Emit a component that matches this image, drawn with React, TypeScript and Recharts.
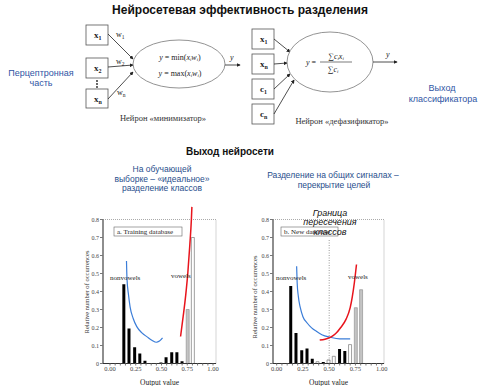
import { ComposedChart, Bar, Line, XAxis, YAxis, ReferenceLine, ReferenceArea } from 'recharts'

// histogram bins (output value), shared by both panels
const bins = [0.135, 0.185, 0.24, 0.29, 0.34, 0.39, 0.445, 0.495, 0.545, 0.6, 0.65, 0.7, 0.755, 0.805]

// a. Training database
const trainNonvowels = [0.44, 0.195, 0.09, 0.055, 0.015, 0, 0, 0.005, 0.035, 0.062, 0.062, 0.012, 0, 0]
const trainVowelsShaded = [0, 0, 0, 0, 0, 0, 0, 0, 0, 0, 0, 0, 0.3, 0]
const trainVowelsOpen = [0, 0, 0, 0, 0, 0, 0, 0, 0, 0, 0, 0, 0, 0.7]

// b. New database
const newNonvowels = [0.43, 0.17, 0.074, 0.083, 0.027, 0, 0.008, 0, 0, 0.08, 0.07, 0, 0, 0]
const newVowelsShaded = [0, 0, 0, 0, 0, 0, 0, 0, 0, 0, 0, 0, 0.31, 0.41]
const newVowelsOpen = [0, 0, 0, 0, 0, 0.01, 0, 0.02, 0.04, 0, 0, 0.105, 0, 0]

// hand-drawn membership curves [x, y]
const trainBlue: [number, number][] = [
  [0.16, 0.57], [0.165, 0.47], [0.18, 0.38], [0.195, 0.315], [0.225, 0.25], [0.26, 0.205],
  [0.31, 0.17], [0.36, 0.148], [0.41, 0.128], [0.45, 0.118], [0.48, 0.125], [0.51, 0.143],
]
const trainRed: [number, number][] = [
  [0.685, 0.15], [0.71, 0.26], [0.735, 0.38], [0.755, 0.5], [0.775, 0.66], [0.79, 0.8], [0.795, 0.87],
]
const newBlue: [number, number][] = [
  [0.19, 0.54], [0.195, 0.45], [0.206, 0.374], [0.225, 0.31], [0.25, 0.26], [0.29, 0.225],
  [0.333, 0.198], [0.38, 0.178], [0.43, 0.16], [0.51, 0.146], [0.6, 0.137], [0.7, 0.137],
]
const newRed: [number, number][] = [
  [0.41, 0.13], [0.46, 0.135], [0.51, 0.145], [0.56, 0.165], [0.61, 0.2], [0.66, 0.245],
  [0.7, 0.31], [0.72, 0.37], [0.74, 0.45], [0.76, 0.55],
]

const xTicks = [0, 0.05, 0.1, 0.15, 0.2, 0.25, 0.3, 0.35, 0.4, 0.45, 0.5, 0.55, 0.6, 0.65, 0.7, 0.75, 0.8, 0.85, 0.9, 0.95, 1]
const xTickLabels = ['0.00', '0.25', '0.50', '0.75', '1.00']
const yTicks = [0, 0.1, 0.2, 0.3, 0.4, 0.5, 0.6, 0.7, 0.8]
const yTickLabels = ['0', '0.1', '0.2', '0.3', '0.4', '0.5', '0.6', '0.7', '0.8']

const serif = '"Liberation Serif", "DejaVu Serif", serif'
const sans = '"Liberation Sans", Arial, sans-serif'
const blueText = '#1f4e8c'

type PanelProps = {
  left: number
  width: number
  xMin: number
  xMax: number
  nonvowels: number[]
  shaded: number[]
  open: number[]
  blue: [number, number][]
  red: [number, number][]
  divider?: boolean
}

const H = 191
const AXIS_W = 25
const AXIS_H = 22.5

function Panel({ left, width, xMin, xMax, nonvowels, shaded, open, blue, red, divider }: PanelProps) {
  const data = bins.map((x, i) => ({ x, nonv: nonvowels[i], shaded: shaded[i], open: open[i] }))
  const pts = (c: [number, number][]) => c.map(([x, y]) => ({ x, y }))
  return (
    <>
      {/* histogram with axes */}
      <div style={{ position: 'absolute', left, top: 195 }}>
        <ComposedChart width={width} height={H} data={data} margin={{ top: 6.5, right: 9, left: 0, bottom: 0 }}>
          <XAxis
            type="number"
            dataKey="x"
            domain={[xMin, xMax]}
            ticks={xTicks}
            interval={0}
            allowDataOverflow
            height={AXIS_H}
            tickSize={2}
            tickMargin={1}
            tickFormatter={(v: number) => {
              const i = xTicks.indexOf(v)
              return i % 5 === 0 ? xTickLabels[i / 5] : ''
            }}
            tick={{ fontSize: 6.5, fill: '#444', fontFamily: serif }}
            axisLine={{ stroke: '#333' }}
            tickLine={{ stroke: '#777' }}
            label={{ value: 'Output value', position: 'insideBottom', offset: 1, fontSize: 7.5, fill: '#222', fontFamily: serif }}
          />
          <YAxis
            type="number"
            domain={[0, 0.9]}
            ticks={yTicks}
            interval={0}
            width={AXIS_W}
            tickSize={3}
            tickMargin={1}
            tickFormatter={(v: number) => yTickLabels[yTicks.indexOf(v)] ?? ''}
            tick={{ fontSize: 6, fill: '#444', fontFamily: serif }}
            axisLine={false}
            tickLine={{ stroke: '#777' }}
          />
          <ReferenceArea x1={xMin} x2={xMax} y1={0} y2={0.8} fill="none" stroke="#aaa" strokeDasharray="1 1" ifOverflow="visible" />
          <ReferenceLine segment={[{ x: xMin, y: 0 }, { x: xMin, y: 0.8 }]} stroke="#333" ifOverflow="visible" />
          {divider && (
            <ReferenceLine segment={[{ x: 0.5, y: 0 }, { x: 0.5, y: 0.69 }]} stroke="#999" strokeDasharray="1 1.5" ifOverflow="visible" />
          )}
          <Bar dataKey="nonv" stackId="h" fill="#000" barSize={3} isAnimationActive={false} />
          <Bar dataKey="shaded" stackId="h" fill="#c4c4c4" stroke="#888" strokeWidth={0.6} barSize={3} isAnimationActive={false} />
          <Bar dataKey="open" stackId="h" fill="#fff" stroke="#777" strokeWidth={0.7} barSize={3} isAnimationActive={false} />
        </ComposedChart>
      </div>
      {/* membership curves on the same scales */}
      <div style={{ position: 'absolute', left, top: 195, pointerEvents: 'none' }}>
        <ComposedChart width={width} height={H} margin={{ top: 6.5, right: 9, left: AXIS_W, bottom: AXIS_H }}>
          <XAxis type="number" dataKey="x" domain={[xMin, xMax]} allowDataOverflow hide />
          <YAxis type="number" domain={[0, 0.9]} hide />
          <Line data={pts(blue)} dataKey="y" type="monotone" stroke="#3b7dd8" strokeWidth={1.2} dot={false} isAnimationActive={false} />
          <Line data={pts(red)} dataKey="y" type="monotone" stroke="#e8141c" strokeWidth={1.5} dot={false} isAnimationActive={false} />
        </ComposedChart>
      </div>
    </>
  )
}

function InputBox({ x, y, h, name, sub }: { x: number; y: number; h: number; name: string; sub: string }) {
  return (
    <g>
      <rect x={x} y={y} width={22} height={h} fill="#fff" stroke="#555" strokeWidth={0.8} />
      <text x={x + 8} y={y + h / 2 + 3} fontFamily={serif} fontSize={9} fontWeight="bold" fill="#222">
        {name}
        <tspan fontSize={6} dy={2}>{sub}</tspan>
      </text>
    </g>
  )
}

function Diagram() {
  const arrow = { stroke: '#222', strokeWidth: 0.8, markerEnd: 'url(#ah)' }
  return (
    <svg width={481} height={386} style={{ position: 'absolute', left: 0, top: 0, pointerEvents: 'none' }}>
      <defs>
        <marker id="ah" viewBox="0 0 6 6" refX="5" refY="3" markerWidth="5" markerHeight="5" orient="auto">
          <path d="M0,0 L6,3 L0,6 z" fill="#222" />
        </marker>
      </defs>
      <text x={240} y={14} textAnchor="middle" fontFamily={sans} fontSize={12} fontWeight="bold" fill="#111">
        Нейросетевая эффективность разделения
      </text>

      {/* minimizer neuron */}
      <InputBox x={86} y={25} h={20} name="x" sub="1" />
      <InputBox x={86} y={58} h={20} name="x" sub="2" />
      <InputBox x={86} y={89} h={19} name="x" sub="n" />
      <circle cx={97} cy={81} r={0.9} fill="#222" />
      <circle cx={97} cy={84} r={0.9} fill="#222" />
      <circle cx={97} cy={87} r={0.9} fill="#222" />
      <line x1={108} y1={34} x2={133} y2={59} {...arrow} />
      <line x1={108} y1={67} x2={133} y2={65} {...arrow} />
      <line x1={108} y1={99} x2={133} y2={72} {...arrow} />
      <text x={116} y={37} fontFamily={serif} fontSize={8} fill="#222">w<tspan fontSize={5.5} dy={1.5}>1</tspan></text>
      <text x={116} y={64} fontFamily={serif} fontSize={8} fill="#222">w<tspan fontSize={5.5} dy={1.5}>2</tspan></text>
      <text x={117} y={95} fontFamily={serif} fontSize={8} fill="#222">w<tspan fontSize={5.5} dy={1.5}>n</tspan></text>
      <ellipse cx={179} cy={64} rx={46} ry={24} fill="#fff" stroke="#777" strokeWidth={0.8} />
      <text x={180} y={60} textAnchor="middle" fontFamily={serif} fontSize={8} fill="#222">
        <tspan fontStyle="italic">y</tspan> = min(<tspan fontStyle="italic">x<tspan fontSize={5} dy={1}>i</tspan><tspan dy={-1}>w</tspan><tspan fontSize={5} dy={1}>i</tspan></tspan><tspan dy={-1}>)</tspan>
      </text>
      <text x={180} y={76} textAnchor="middle" fontFamily={serif} fontSize={8} fill="#222">
        <tspan fontStyle="italic">y</tspan> = max(<tspan fontStyle="italic">x<tspan fontSize={5} dy={1}>i</tspan><tspan dy={-1}>w</tspan><tspan fontSize={5} dy={1}>i</tspan></tspan><tspan dy={-1}>)</tspan>
      </text>
      <line x1={225} y1={65} x2={240} y2={65} {...arrow} />
      <text x={230} y={60} fontFamily={serif} fontStyle="italic" fontSize={8} fill="#222">y</text>
      <text x={163} y={121} textAnchor="middle" fontFamily={serif} fontSize={8.5} fill="#333">Нейрон «минимизатор»</text>

      {/* defuzzifier neuron */}
      <InputBox x={252} y={29} h={20} name="x" sub="1" />
      <InputBox x={252} y={54} h={20} name="x" sub="n" />
      <InputBox x={252} y={79} h={20} name="c" sub="1" />
      <InputBox x={252} y={104} h={20} name="c" sub="n" />
      <line x1={274} y1={39} x2={290} y2={52} {...arrow} />
      <line x1={274} y1={64} x2={287} y2={63} {...arrow} />
      <line x1={274} y1={89} x2={290} y2={74} {...arrow} />
      <line x1={274} y1={114} x2={294} y2={80} {...arrow} />
      <ellipse cx={330} cy={62} rx={43} ry={30} fill="#fff" stroke="#777" strokeWidth={0.8} />
      <text x={306} y={65} fontFamily={serif} fontSize={8} fill="#222"><tspan fontStyle="italic">y</tspan> =</text>
      <text x={336} y={59} textAnchor="middle" fontFamily={serif} fontSize={8} fill="#222">
        ∑<tspan fontStyle="italic">c<tspan fontSize={5} dy={1}>i</tspan><tspan dy={-1}>x</tspan><tspan fontSize={5} dy={1}>i</tspan></tspan>
      </text>
      <line x1={320} y1={62} x2={352} y2={62} stroke="#222" strokeWidth={0.6} />
      <text x={333} y={72} textAnchor="middle" fontFamily={serif} fontSize={8} fill="#222">
        ∑<tspan fontStyle="italic">c<tspan fontSize={5} dy={1}>i</tspan></tspan>
      </text>
      <line x1={373} y1={62} x2={397} y2={62} {...arrow} />
      <text x={386} y={57} fontFamily={serif} fontStyle="italic" fontSize={8} fill="#222">y</text>
      <text x={342} y={124} textAnchor="middle" fontFamily={serif} fontSize={8.5} fill="#333">Нейрон «дефазификатор»</text>

      {/* side notes */}
      <text x={41} y={76} textAnchor="middle" fontFamily={sans} fontSize={9} fill="#2f55a4">Перцептронная</text>
      <text x={41} y={86} textAnchor="middle" fontFamily={sans} fontSize={9} fill="#2f55a4">часть</text>
      <text x={442} y={91} textAnchor="middle" fontFamily={sans} fontSize={9} fill="#2f55a4">Выход</text>
      <text x={443} y={102} textAnchor="middle" fontFamily={sans} fontSize={9} fill="#2f55a4">классификатора</text>

      <text x={230} y={155} textAnchor="middle" fontFamily={sans} fontSize={10} fontWeight="bold" fill="#111">Выход нейросети</text>
      <text x={162} y={172} textAnchor="middle" fontFamily={sans} fontSize={8.5} fill={blueText}>На обучающей</text>
      <text x={162} y={182} textAnchor="middle" fontFamily={sans} fontSize={8.5} fill={blueText}>выборке – «идеальное»</text>
      <text x={162} y={191} textAnchor="middle" fontFamily={sans} fontSize={8.5} fill={blueText}>разделение классов</text>
      <text x={333} y={178} textAnchor="middle" fontFamily={sans} fontSize={8.5} fill={blueText}>Разделение на общих сигналах –</text>
      <text x={334} y={188} textAnchor="middle" fontFamily={sans} fontSize={8.5} fill={blueText}>перекрытие целей</text>
    </svg>
  )
}

function PanelNotes() {
  return (
    <svg width={481} height={386} style={{ position: 'absolute', left: 0, top: 0, pointerEvents: 'none' }}>
      <rect x={114} y={227} width={68} height={9} fill="#fff" stroke="#666" strokeWidth={0.6} />
      <text x={117} y={234} fontFamily={serif} fontSize={7} fill="#222">a.  Training database</text>
      <rect x={281} y={227} width={57} height={9} fill="#fff" stroke="#666" strokeWidth={0.6} />
      <text x={284} y={234} fontFamily={serif} fontSize={7} fill="#222">b.  New database</text>

      <text x={110} y={280} fontFamily={serif} fontSize={7} fill="#222">nonvowels</text>
      <text x={171} y={278} fontFamily={serif} fontSize={7} fill="#222">vowels</text>
      <text x={276} y={280} fontFamily={serif} fontSize={7} fill="#222">nonvowels</text>
      <text x={348} y={279} fontFamily={serif} fontSize={7} fill="#222">vowels</text>

      <text x={89} y={292} transform="rotate(-90 89 292)" textAnchor="middle" fontFamily={serif} fontSize={6.5} fill="#333">
        Relative number of occurrences
      </text>
      <text x={257} y={297} transform="rotate(-90 257 297)" textAnchor="middle" fontFamily={serif} fontSize={6.5} fill="#333">
        Relative number of occurrences
      </text>

      <text x={330} y={216} textAnchor="middle" fontFamily={sans} fontStyle="italic" fontSize={9} fill="#111">Граница</text>
      <text x={330} y={225} textAnchor="middle" fontFamily={sans} fontStyle="italic" fontSize={9} fill="#111">пересечения</text>
      <text x={330} y={235} textAnchor="middle" fontFamily={sans} fontStyle="italic" fontSize={9} fill="#111">классов</text>
    </svg>
  )
}

export default function App() {
  return (
    <div style={{ position: 'absolute', left: 0, top: 0, width: 481, height: 386, background: '#fff', overflow: 'hidden' }}>
      <Diagram />
      <Panel left={78} width={147} xMin={-0.068} xMax={1.029} nonvowels={trainNonvowels} shaded={trainVowelsShaded} open={trainVowelsOpen} blue={trainBlue} red={trainRed} />
      <Panel left={248} width={145} xMin={-0.035} xMax={1.022} nonvowels={newNonvowels} shaded={newVowelsShaded} open={newVowelsOpen} blue={newBlue} red={newRed} divider />
      <PanelNotes />
    </div>
  )
}
